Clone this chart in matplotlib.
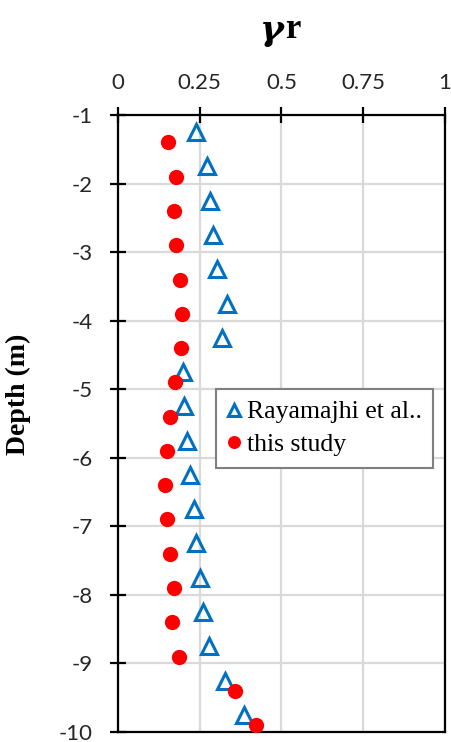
import matplotlib
matplotlib.use("Agg")
import matplotlib.pyplot as plt

# residual ratio vs depth
rayamajhi_depth = [-1.25, -1.75, -2.25, -2.75, -3.25, -3.75, -4.25, -4.75, -5.25,
                   -5.75, -6.25, -6.75, -7.25, -7.75, -8.25, -8.75, -9.25, -9.75]
rayamajhi = [0.238, 0.273, 0.281, 0.292, 0.304, 0.333, 0.318, 0.199, 0.201,
             0.210, 0.221, 0.232, 0.240, 0.251, 0.259, 0.278, 0.328, 0.384]

study_depth = [-1.4, -1.9, -2.4, -2.9, -3.4, -3.9, -4.4, -4.9, -5.4,
               -5.9, -6.4, -6.9, -7.4, -7.9, -8.4, -8.9, -9.4, -9.9]
study = [0.152, 0.178, 0.170, 0.178, 0.190, 0.197, 0.194, 0.174, 0.159,
         0.149, 0.145, 0.149, 0.159, 0.170, 0.166, 0.186, 0.358, 0.422]

xticks = [0, 0.25, 0.5, 0.75, 1]
xticklabels = ["0", "0.25", "0.5", "0.75", "1"]
yticks = [-1, -2, -3, -4, -5, -6, -7, -8, -9, -10]

plt.rcParams["axes.unicode_minus"] = False

fig = plt.figure(figsize=(4.51, 7.42), dpi=100)
ax = fig.add_axes([0.2616, 0.0135, 0.7251, 0.8315])

ax.plot(rayamajhi, rayamajhi_depth, linestyle="none", marker="^", markersize=11,
        markerfacecolor="none", markeredgecolor="#0070C0", markeredgewidth=2.2,
        label="Rayamajhi et al..", clip_on=False, zorder=3)
ax.plot(study, study_depth, linestyle="none", marker="o", markersize=11,
        markerfacecolor="#FF0000", markeredgecolor="#FF0000", markeredgewidth=0,
        label="this study", clip_on=False, zorder=3)

ax.set_xlim(0, 1)
ax.set_ylim(-10, -1)
ax.set_xticks(xticks)
ax.set_xticklabels(xticklabels)
ax.set_yticks(yticks)
ax.xaxis.tick_top()

ax.grid(True, color="#d9d9d9", linewidth=1.6)
ax.set_axisbelow(True)
for s in ax.spines.values():
    s.set_linewidth(1.6)
    s.set_color("black")

ax.tick_params(axis="x", direction="inout", length=11, width=1.6, pad=10,
               labelsize=16, labelcolor="#262626")
ax.tick_params(axis="y", direction="inout", length=12, width=1.6, pad=12,
               labelsize=16, labelcolor="#262626")
for lab in ax.get_xticklabels() + ax.get_yticklabels():
    lab.set_family("Lato")

ax.set_ylabel("Depth (m)", family="Liberation Serif", fontweight="bold", fontsize=20)
ax.yaxis.set_label_coords(-0.266, 0.548)

# axis title: gamma with r
fig.text(284 / 451, 1 - 30 / 742, "γ", family="DejaVu Serif", fontweight="bold",
         style="italic", fontsize=26, ha="right", va="center")
fig.text(285 / 451, 1 - 30 / 742, "r", family="Liberation Serif", fontweight="bold",
         fontsize=25, ha="left", va="center")

leg = ax.legend(loc="upper left", bbox_to_anchor=(0.30, 0.556), borderaxespad=0,
                fancybox=False, edgecolor="#7f7f7f", framealpha=1,
                prop={"family": "Liberation Serif", "size": 18.5},
                handlelength=0.5, handletextpad=0.25, labelspacing=0.38,
                borderpad=0.45, markerscale=0.85)
leg.get_frame().set_linewidth(1.5)

fig.savefig("out.png", dpi=100)
